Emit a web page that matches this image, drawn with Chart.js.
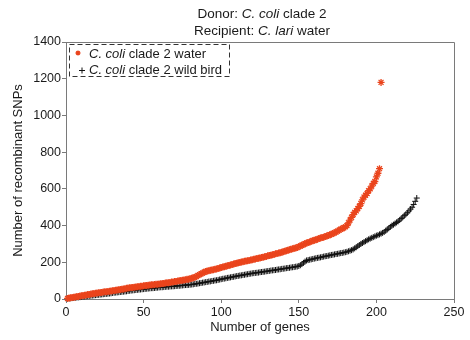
<!DOCTYPE html>
<html>
<head>
<meta charset="utf-8">
<script src="https://cdn.jsdelivr.net/npm/chart.js@4.4.1/dist/chart.umd.min.js"></script>
<style>
  html, body { margin: 0; padding: 0; background: #fff; }
  #wrap { width: 470px; height: 340px; position: relative; }
</style>
</head>
<body>
<div id="wrap"><canvas id="snpChart" width="470" height="340"></canvas></div>
<script>
// recombinant SNPs per gene, sorted ascending (gene rank = index + 1)
const waterSnps = [
    3, 5, 7, 8, 10, 11, 13, 14, 16, 18,
    19, 21, 22, 24, 25, 27, 28, 30, 31, 33,
    34, 35, 36, 38, 39, 40, 41, 42, 44, 45,
    46, 48, 49, 51, 52, 53, 55, 56, 58, 60,
    61, 62, 63, 64, 66, 67, 68, 69, 70, 72,
    73, 74, 75, 76, 77, 78, 79, 80, 81, 82,
    83, 84, 85, 87, 88, 89, 90, 92, 93, 95,
    96, 98, 99, 101, 102, 104, 105, 107, 108, 110,
    113, 116, 119, 122, 128, 133, 137, 141, 146, 150,
    152, 154, 156, 158, 160, 162, 164, 166, 169, 172,
    174, 176, 179, 181, 183, 185, 188, 190, 193, 195,
    197, 199, 201, 203, 205, 207, 209, 210, 212, 214,
    216, 218, 220, 222, 224, 226, 228, 230, 232, 235,
    237, 239, 241, 243, 246, 248, 250, 252, 255, 258,
    260, 263, 266, 268, 271, 274, 276, 278, 281, 285,
    289, 293, 297, 301, 305, 308, 311, 314, 317, 320,
    323, 326, 329, 332, 335, 337, 340, 343, 346, 350,
    353, 357, 361, 365, 370, 375, 380, 384, 388, 393,
    400, 415, 430, 445, 460, 472, 480, 492, 505, 520,
    540, 555, 565, 575, 590, 600, 615, 630, 640, 665,
    685, 710, 1180
];

const wildBirdSnps = [
    2, 3, 4, 5, 6, 7, 8, 9, 10, 12,
    13, 14, 15, 16, 17, 18, 19, 20, 21, 22,
    23, 24, 25, 26, 27, 28, 29, 30, 31, 33,
    34, 35, 36, 37, 38, 39, 40, 41, 42, 44,
    45, 46, 47, 48, 49, 50, 51, 52, 53, 54,
    55, 56, 57, 58, 59, 59, 60, 61, 62, 63,
    64, 64, 65, 66, 67, 67, 68, 69, 69, 70,
    71, 72, 72, 73, 74, 75, 76, 76, 77, 78,
    79, 80, 82, 83, 84, 86, 87, 89, 90, 92,
    93, 95, 96, 98, 99, 101, 102, 104, 106, 108,
    110, 111, 113, 115, 116, 118, 120, 121, 123, 125,
    126, 128, 129, 131, 132, 134, 135, 137, 138, 140,
    141, 142, 143, 144, 146, 147, 148, 149, 151, 152,
    153, 155, 156, 157, 158, 160, 161, 162, 164, 165,
    166, 168, 169, 170, 172, 173, 174, 176, 177, 180,
    184, 190, 197, 204, 210, 212, 214, 216, 218, 220,
    222, 224, 225, 227, 229, 231, 233, 234, 236, 238,
    240, 241, 243, 245, 246, 248, 250, 251, 253, 255,
    257, 260, 263, 266, 270, 276, 282, 288, 294, 300,
    305, 310, 315, 320, 325, 329, 333, 337, 341, 345,
    348, 352, 356, 360, 365, 372, 379, 386, 393, 400,
    405, 411, 417, 423, 430, 438, 446, 454, 462, 470,
    480, 490, 500, 515, 532, 550
];

const xTicks = [0, 50, 100, 150, 200, 250];
const yTicks = [0, 200, 400, 600, 800, 1000, 1200, 1400];

const titleLines = [
    [['Donor: ', false], ['C. coli', true], [' clade 2', false]],
    [['Recipient: ', false], ['C. lari', true], [' water', false]]
];
const legendLines = [
    [['C. coli', true], [' clade 2 water', false]],
    [['C. coli', true], [' clade 2 wild bird', false]]
];

const ORANGE = 'rgb(234, 68, 28)';
const AXIS = '#7a7a7a';
const FONT = '"Liberation Sans", Arial, sans-serif';

document.addEventListener('DOMContentLoaded', function() {

    const toPoints = arr => arr.map((v, i) => ({ x: i + 1, y: v }));

    // draws runs of plain/italic text, anchored by align
    const drawRich = (ctx, parts, x, y, size, align) => {
        const widths = parts.map(p => {
            ctx.font = (p[1] ? 'italic ' : '') + size + 'px ' + FONT;
            return ctx.measureText(p[0]).width;
        });
        const total = widths.reduce((a, b) => a + b, 0);
        let cx = align === 'center' ? x - total / 2 : x;
        parts.forEach((p, i) => {
            ctx.font = (p[1] ? 'italic ' : '') + size + 'px ' + FONT;
            ctx.fillText(p[0], cx, y);
            cx += widths[i];
        });
    };

    const decorations = {
        id: 'decorations',
        afterDraw(chart) {
            const ctx = chart.ctx;
            const a = chart.chartArea;
            ctx.save();

            // frame top + right
            ctx.strokeStyle = AXIS;
            ctx.lineWidth = 1;
            ctx.beginPath();
            ctx.moveTo(a.left, a.top + 0.5);
            ctx.lineTo(a.right + 0.5, a.top + 0.5);
            ctx.lineTo(a.right + 0.5, a.bottom);
            ctx.stroke();

            ctx.fillStyle = '#1a1a1a';
            ctx.textBaseline = 'middle';
            ctx.textAlign = 'left';
            const cx = (a.left + a.right) / 2;
            drawRich(ctx, titleLines[0], cx + 2, 14, 13.5, 'center');
            drawRich(ctx, titleLines[1], cx + 2, 31, 13.5, 'center');

            // axis titles
            ctx.font = '13px ' + FONT;
            ctx.textAlign = 'center';
            ctx.fillText('Number of genes', cx, 327);
            ctx.translate(18, (a.top + a.bottom) / 2);
            ctx.rotate(-Math.PI / 2);
            ctx.fillText('Number of recombinant SNPs', 0, 0);
            ctx.setTransform(1, 0, 0, 1, 0, 0);

            // legend box
            ctx.strokeStyle = '#333';
            ctx.setLineDash([5, 3]);
            ctx.strokeRect(69.5, 44.5, 160, 32);
            ctx.setLineDash([]);

            ctx.strokeStyle = ORANGE;
            ctx.lineWidth = 1.3;
            const sx = 78, sy = 53, r = 2.5;
            ctx.beginPath();
            for (let k = 0; k < 4; k++) {
                const ang = k * Math.PI / 4;
                ctx.moveTo(sx - r * Math.cos(ang), sy - r * Math.sin(ang));
                ctx.lineTo(sx + r * Math.cos(ang), sy + r * Math.sin(ang));
            }
            ctx.stroke();

            ctx.strokeStyle = '#111';
            ctx.lineWidth = 1;
            ctx.beginPath();
            ctx.moveTo(79, 70.5); ctx.lineTo(85, 70.5);
            ctx.moveTo(82, 67.5); ctx.lineTo(82, 73.5);
            ctx.stroke();

            ctx.fillStyle = '#1a1a1a';
            ctx.textAlign = 'left';
            drawRich(ctx, legendLines[0], 89, 54, 13, 'left');
            drawRich(ctx, legendLines[1], 89, 70, 13, 'left');

            ctx.restore();
        }
    };

    const ctx = document.getElementById('snpChart').getContext('2d');
    new Chart(ctx, {
        type: 'scatter',
        data: {
            datasets: [{
                label: 'C. coli clade 2 water',
                data: toPoints(waterSnps),
                pointStyle: 'star',
                radius: 3.5,
                borderColor: ORANGE,
                backgroundColor: ORANGE,
                borderWidth: 1.3,
                clip: false
            }, {
                label: 'C. coli clade 2 wild bird',
                data: toPoints(wildBirdSnps),
                pointStyle: 'cross',
                radius: 3,
                borderColor: '#111',
                backgroundColor: '#111',
                borderWidth: 1,
                clip: false
            }]
        },
        options: {
            responsive: false,
            animation: false,
            events: [],
            layout: {
                padding: { left: 0, top: 42, right: 16, bottom: 0 }
            },
            plugins: {
                legend: { display: false },
                tooltip: { enabled: false },
                title: { display: false }
            },
            scales: {
                x: {
                    type: 'linear',
                    min: 0,
                    max: 250,
                    afterFit: scale => { scale.height = 41; },
                    afterBuildTicks: scale => { scale.ticks = xTicks.map(v => ({ value: v })); },
                    ticks: {
                        color: '#1a1a1a',
                        padding: 2,
                        maxRotation: 0,
                        font: { family: FONT, size: 12.5 },
                        callback: v => String(v)
                    },
                    grid: {
                        drawOnChartArea: false,
                        drawTicks: true,
                        tickLength: 4,
                        tickColor: AXIS
                    },
                    border: { color: AXIS, width: 1 }
                },
                y: {
                    type: 'linear',
                    min: 0,
                    max: 1400,
                    afterFit: scale => { scale.width = 66; },
                    afterBuildTicks: scale => { scale.ticks = yTicks.map(v => ({ value: v })); },
                    ticks: {
                        color: '#1a1a1a',
                        padding: 1,
                        font: { family: FONT, size: 12.5 },
                        callback: v => String(v)
                    },
                    grid: {
                        drawOnChartArea: false,
                        drawTicks: true,
                        tickLength: 4,
                        tickColor: AXIS
                    },
                    border: { color: AXIS, width: 1 }
                }
            }
        },
        plugins: [decorations]
    });
});
</script>
</body>
</html>
